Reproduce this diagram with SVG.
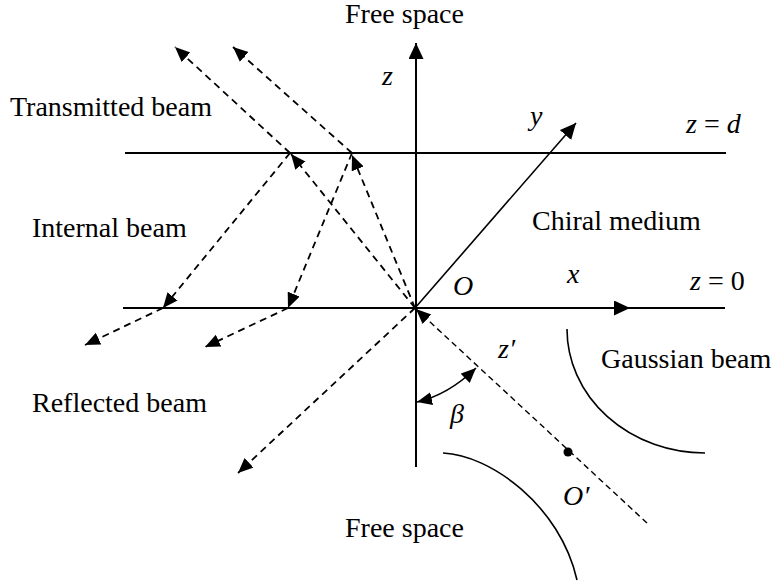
<svg xmlns="http://www.w3.org/2000/svg" width="771" height="585" viewBox="0 0 771 585">
<style>
.t{font-family:"Liberation Serif","Times New Roman",serif;font-size:28px;fill:#000}
.m{font-family:"Liberation Serif","Times New Roman",serif;font-size:28px;font-style:italic;fill:#000}
.r{font-style:normal}
.solid{stroke:#000;stroke-width:2;fill:none}
.thin{stroke:#000;stroke-width:1.6;fill:none}
.beam{stroke:#000;stroke-width:1.8;stroke-dasharray:7 5;fill:none}
.inc{stroke:#000;stroke-width:1.4;stroke-dasharray:6 4;fill:none}
</style>
<defs>
<marker id="ah" markerUnits="userSpaceOnUse" viewBox="0 0 16 14" markerWidth="16" markerHeight="14" refX="15" refY="6.5" orient="auto-start-reverse">
<path d="M0,0 L15,6.5 L0,13 z" fill="#000"/>
</marker>
<marker id="axh" markerUnits="userSpaceOnUse" viewBox="0 0 18 16" markerWidth="18" markerHeight="16" refX="16" refY="7.5" orient="auto">
<path d="M0,0 L16,7.5 L0,15 z" fill="#000"/>
</marker>
</defs>

<g id="boundaries">
<line class="solid" x1="125" y1="153" x2="726" y2="153"/>
<line class="solid" x1="123" y1="308" x2="725" y2="308"/>
</g>

<g id="axes">
<line id="z-axis" class="solid" x1="416" y1="467" x2="416" y2="43" marker-end="url(#axh)"/>
<line id="x-axis" class="solid" x1="415" y1="308" x2="630" y2="308" marker-end="url(#axh)"/>
<line id="y-axis" class="thin" x1="415" y1="308" x2="576" y2="123" marker-end="url(#axh)"/>
</g>

<g id="connectors">
<line class="beam" x1="415" y1="308" x2="291" y2="154" marker-end="url(#ah)"/>
<line class="beam" x1="290" y1="153" x2="175" y2="47" marker-end="url(#ah)"/>
<line class="beam" x1="290" y1="153" x2="163" y2="308" marker-end="url(#ah)"/>
<line class="beam" x1="163" y1="308" x2="85" y2="345" marker-end="url(#ah)"/>
<line class="beam" x1="415" y1="308" x2="352" y2="155" marker-end="url(#ah)"/>
<line class="beam" x1="352" y1="153" x2="233" y2="47" marker-end="url(#ah)"/>
<line class="beam" x1="352" y1="153" x2="288" y2="308" marker-end="url(#ah)"/>
<line class="beam" x1="288" y1="308" x2="205" y2="347" marker-end="url(#ah)"/>
<line class="beam" x1="415" y1="308" x2="238" y2="473" marker-end="url(#ah)"/>
<line class="inc" x1="647" y1="523" x2="416" y2="309" marker-end="url(#ah)"/>
<path id="beta-arc" class="thin" d="M417,402 Q448,395 476,368" marker-start="url(#ah)" marker-end="url(#ah)"/>
</g>

<g id="gaussian-beam">
<path class="thin" d="M567,329 A138,124 0 0 0 705,453"/>
<path class="thin" d="M443,453 C490,455 560,505 577,580"/>
<circle cx="568" cy="452" r="4.5" fill="#000"/>
</g>

<g id="labels">
<text class="t" x="345" y="23">Free space</text>
<text class="t" x="345" y="537">Free space</text>
<text class="t" x="10" y="116">Transmitted beam</text>
<text class="t" x="32" y="237">Internal beam</text>
<text class="t" x="32" y="412">Reflected beam</text>
<text class="t" x="532" y="230">Chiral medium</text>
<text class="t" x="601" y="368">Gaussian beam</text>
<text class="m" x="382" y="85">z</text>
<text class="m" x="530" y="125">y</text>
<text class="m" x="567" y="283">x</text>
<text class="m" x="453" y="295">O</text>
<text class="m" x="686" y="133">z <tspan class="r">=</tspan> d</text>
<text class="m" x="690" y="290">z <tspan class="r">= 0</tspan></text>
<text class="m" x="498" y="358">z′</text>
<text class="m" x="450" y="423">β</text>
<text class="m" x="563" y="505">O′</text>
</g>
</svg>
